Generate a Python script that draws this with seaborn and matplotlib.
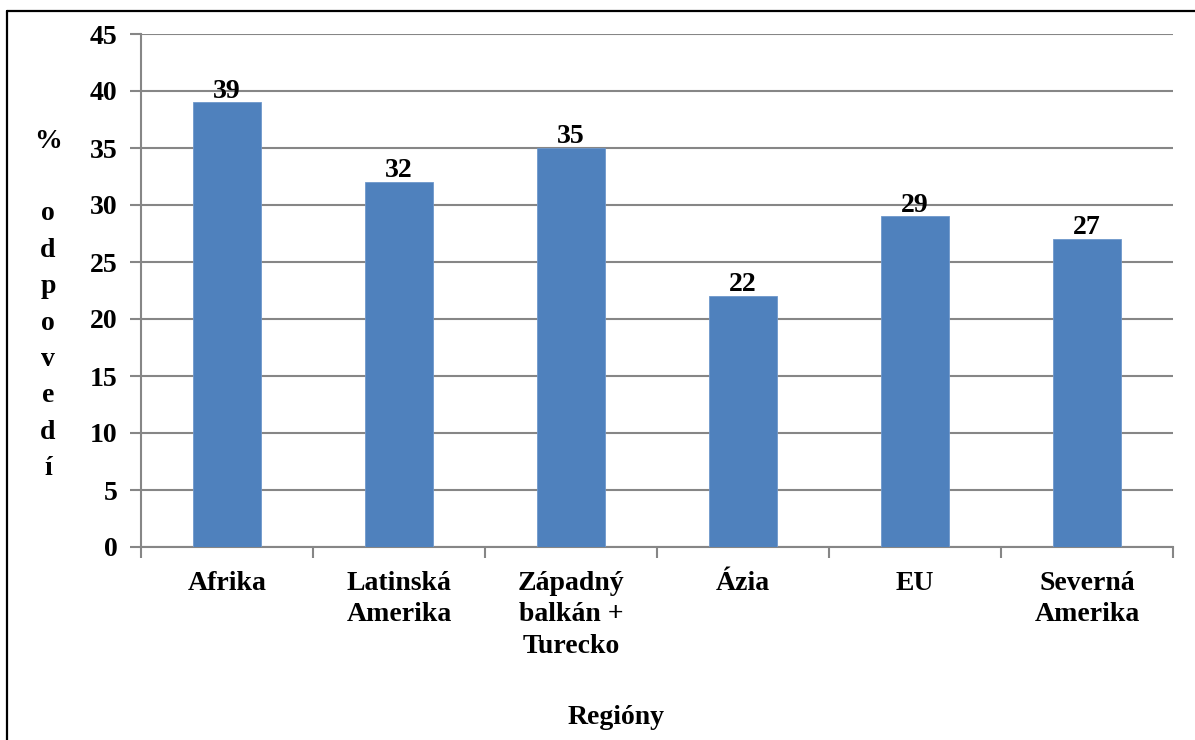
import numpy as np
from matplotlib import pyplot as plt
from matplotlib.lines import Line2D
import seaborn as sns
import pandas as pd

# data
regions = ['Afrika', 'Latinská\nAmerika', 'Západný\nbalkán +\nTurecko', 'Ázia', 'EU', 'Severná\nAmerika']
values = [39, 32, 35, 22, 29, 27]
y_ticks = [0, 5, 10, 15, 20, 25, 30, 35, 40, 45]

sns.set_theme(style="white")
plt.rcParams['font.family'] = ['Liberation Serif', 'DejaVu Serif']
plt.rcParams['font.weight'] = 'bold'
plt.rcParams['text.color'] = 'black'
plt.rcParams['xtick.color'] = '#868686'
plt.rcParams['ytick.color'] = '#868686'
plt.rcParams['xtick.labelcolor'] = 'black'
plt.rcParams['ytick.labelcolor'] = 'black'
plt.rcParams['xtick.bottom'] = True
plt.rcParams['ytick.left'] = True

df = pd.DataFrame({'region': regions, 'value': values})

fig = plt.figure(figsize=(11.95, 7.4), dpi=100)
ax = fig.add_axes([141/1195, 1 - 547/740, (1173 - 141)/1195, (547 - 34)/740])

sns.barplot(data=df, x='region', y='value', color='#4F81BD', saturation=1,
            width=0.4, ax=ax, edgecolor='#6f98cc', linewidth=0.6, zorder=3)

ax.set_ylim(0, 45)
ax.set_xlim(-0.5, len(regions) - 0.5)
ax.set_yticks(y_ticks)
ax.set_yticklabels([str(t) for t in y_ticks], fontsize=20, fontweight='bold')
ax.set_xticks(range(len(regions)))
ax.set_xticklabels(regions, fontsize=20, fontweight='bold', linespacing=1.35)
ax.set_xticks(np.arange(-0.5, len(regions), 1), minor=True)
ax.tick_params(axis='x', which='major', length=0, pad=17)
ax.tick_params(axis='x', which='minor', length=8, width=1.5, color='#868686', direction='out', bottom=True)
ax.tick_params(axis='y', which='major', length=8, width=1.5, color='#868686', direction='out', pad=9, left=True)
ax.yaxis.grid(True, color='#868686', linewidth=1.5, zorder=0)
ax.set_axisbelow(True)

for side in ['top', 'right']:
    ax.spines[side].set_visible(False)
for side in ['left', 'bottom']:
    ax.spines[side].set_color('#868686')
    ax.spines[side].set_linewidth(1.5)

# value labels on bars
for i, v in enumerate(values):
    ax.text(i, v - 0.1, str(v), ha='center', va='bottom', fontsize=20, fontweight='bold', color='black')

ax.set_xlabel('')
ax.set_ylabel('')
fig.text(616/1195, 1 - 718/740, 'Regióny', ha='center', va='center', fontsize=20, fontweight='bold', color='black')
fig.text(48/1195, 1 - 305/740, '%\n\no\nd\np\no\nv\ne\nd\ní', ha='center', va='center',
         fontsize=20, fontweight='bold', linespacing=1.6, color='black')

# outer frame
fig.add_artist(Line2D([7/1195, 7/1195], [0, 1 - 11/740], transform=fig.transFigure, color='black', linewidth=1.6))
fig.add_artist(Line2D([7/1195, 1], [1 - 11/740, 1 - 11/740], transform=fig.transFigure, color='black', linewidth=1.6))

plt.savefig('out.png', dpi=100)
plt.close()
